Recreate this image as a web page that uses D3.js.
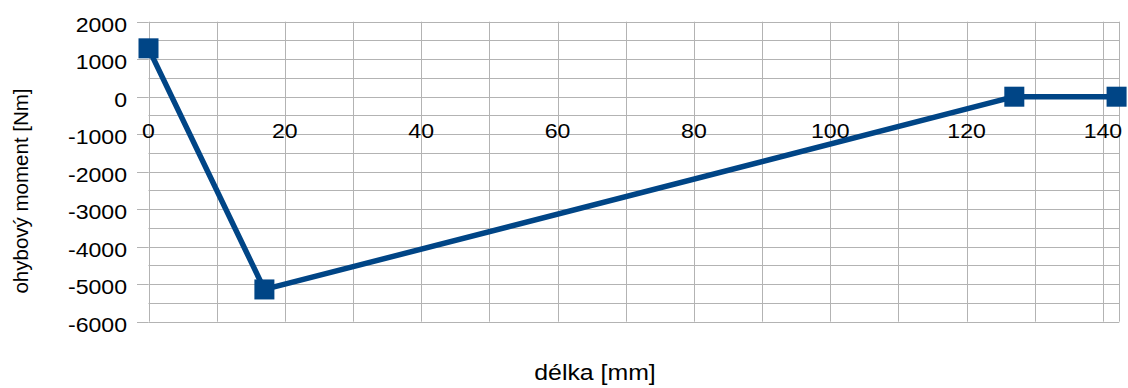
<!DOCTYPE html>
<html>
<head>
<meta charset="utf-8">
<script src="https://cdn.jsdelivr.net/npm/d3@7"></script>
<style>
  body { margin: 0; background: #fff; }
  text { font-family: "Liberation Sans", Arial, sans-serif; fill: #000; }
</style>
</head>
<body>
<div id="chart"></div>
<script>
// data
var delka = [0, 17, 127, 142];
var moment = [1290, -5140, 0, 0];
var xTickLabels = [0, 20, 40, 60, 80, 100, 120, 140];
var yTickLabels = [2000, 1000, 0, -1000, -2000, -3000, -4000, -5000, -6000];

var width = 1128, height = 388;
var blue = "#004586", grid = "#b3b3b3";
var stretch = 1.1; // glyphs in the reference are a bit wide

var svg = d3.select("#chart").append("svg")
  .attr("width", width)
  .attr("height", height);

// scales
var x = d3.scaleLinear().domain([0, 142.4]).range([148.5, 1119.3]);
var y = d3.scaleLinear().domain([-6000, 2000]).range([321.7, 21.7]);

// horizontal grid every 500
svg.append("g").selectAll("line")
  .data(d3.range(-6000, 2001, 500))
  .enter().append("line")
  .attr("x1", x(0)).attr("x2", x(142.4))
  .attr("y1", (d) => Math.round(y(d)) + 0.5)
  .attr("y2", (d) => Math.round(y(d)) + 0.5)
  .style("stroke", grid).style("stroke-width", 1);

// vertical grid every 10 + right border
svg.append("g").selectAll("line")
  .data(d3.range(0, 141, 10).concat([142.4]))
  .enter().append("line")
  .attr("x1", (d) => Math.round(x(d)) + 0.5)
  .attr("x2", (d) => Math.round(x(d)) + 0.5)
  .attr("y1", y(2000)).attr("y2", y(-6000))
  .style("stroke", grid).style("stroke-width", 1);

// y ticks
svg.append("g").selectAll("line")
  .data(yTickLabels)
  .enter().append("line")
  .attr("x1", x(0) - 11.5).attr("x2", x(0))
  .attr("y1", (d) => Math.round(y(d)) + 0.5)
  .attr("y2", (d) => Math.round(y(d)) + 0.5)
  .style("stroke", grid);

// y tick labels
svg.append("g").selectAll("text")
  .data(yTickLabels)
  .enter().append("text")
  .attr("transform", (d) => "translate(127," + (y(d) + 10) + ") scale(" + stretch + ",1)")
  .attr("text-anchor", "end")
  .style("font-size", "21px")
  .text((d) => d);

// x tick labels (sit under the zero line)
svg.append("g").selectAll("text")
  .data(xTickLabels)
  .enter().append("text")
  .attr("transform", (d) => "translate(" + x(d) + "," + (y(0) + 41) + ") scale(" + stretch + ",1)")
  .attr("text-anchor", "middle")
  .style("font-size", "21px")
  .text((d) => d);

// axis titles
svg.append("text")
  .attr("transform", "translate(595,380) scale(1.13,1)")
  .attr("text-anchor", "middle")
  .style("font-size", "22px")
  .text("délka [mm]");

svg.append("text")
  .attr("transform", "translate(28,191) rotate(-90)")
  .attr("text-anchor", "middle")
  .style("font-size", "20.5px")
  .text("ohybový moment [Nm]");

// series
var pts = delka.map((d, i) => [d, moment[i]]);
var line = d3.line().x((d) => x(d[0])).y((d) => y(d[1]));

svg.append("path")
  .datum(pts)
  .attr("d", line)
  .style("fill", "none")
  .style("stroke", blue)
  .style("stroke-width", 5.5)
  .style("stroke-linejoin", "round");

var m = 20;
svg.append("g").selectAll("rect")
  .data(pts)
  .enter().append("rect")
  .attr("x", (d) => x(d[0]) - m / 2)
  .attr("y", (d) => y(d[1]) - m / 2)
  .attr("width", m).attr("height", m)
  .style("fill", blue);
</script>
</body>
</html>
